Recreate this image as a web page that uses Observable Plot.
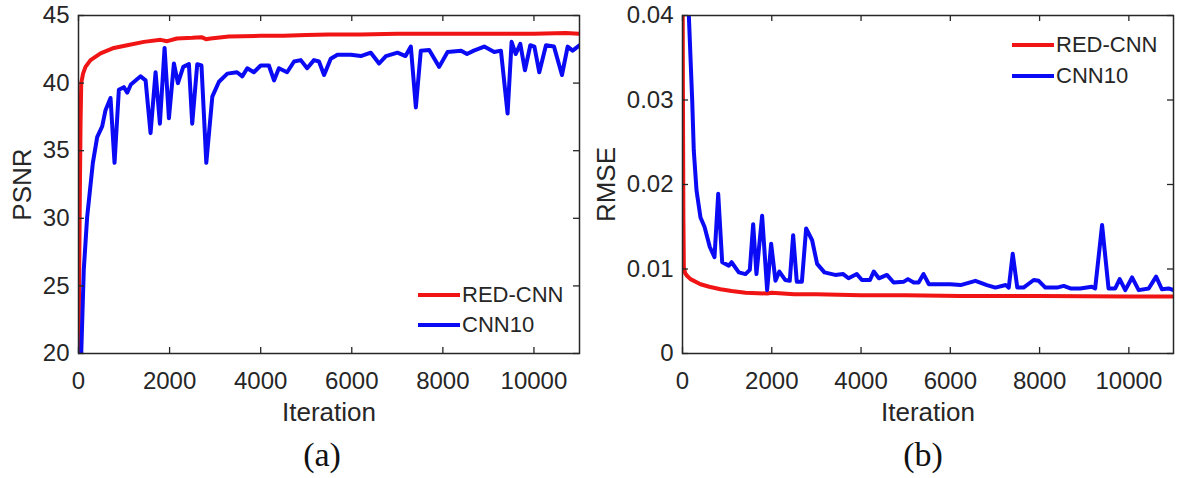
<!DOCTYPE html>
<html><head><meta charset="utf-8">
<script src="https://cdn.jsdelivr.net/npm/d3@7"></script>
<script src="https://cdn.jsdelivr.net/npm/@observablehq/plot@0.6"></script>
<style>
body{margin:0;background:#fff;}
#wrap{position:relative;width:1181px;height:478px;display:flex;background:#fff;}
.leg{position:absolute;font:22px "Liberation Sans",Arial,sans-serif;color:#262626;display:flex;align-items:center;white-space:nowrap;height:26px;line-height:26px;}
.leg span.l{display:inline-block;width:42px;height:4px;margin-right:2px;}
</style></head><body><div id="wrap"></div>
<script>
// ---- data ----
const seriesNames = ["RED-CNN", "CNN10"];
const seriesColors = ["#f01414", "#0a0af5"];
const xTicks = [0, 2000, 4000, 6000, 8000, 10000];
const psnrTicks = [20, 25, 30, 35, 40, 45];
const rmseTicks = [0, 0.01, 0.02, 0.03, 0.04];

const psnrRedIter = [0, 15, 30, 45, 60, 100, 154, 264, 484, 776, 1070, 1436, 1802, 1948, 2160, 2500, 2700, 2800, 2900, 3300, 4000, 4500, 5000, 5500, 6200, 7000, 8000, 9000, 10000, 10700, 11000];
const psnrRed = [20, 26, 32, 37, 40.0, 40.7, 41.2, 41.7, 42.2, 42.6, 42.8, 43.05, 43.2, 43.1, 43.3, 43.35, 43.4, 43.25, 43.3, 43.45, 43.5, 43.5, 43.55, 43.6, 43.6, 43.65, 43.65, 43.65, 43.65, 43.7, 43.65];

const psnrBlueIter = [60, 116, 190, 315, 410, 520, 593, 703, 791, 886, 995, 1070, 1150, 1363, 1473, 1582, 1692, 1787, 1890, 1985, 2095, 2183, 2300, 2424, 2497, 2607, 2700, 2806, 2938, 3084, 3268, 3480, 3596, 3705, 3850, 4000, 4180, 4293, 4400, 4580, 4733, 4880, 5020, 5170, 5280, 5392, 5538, 5685, 5980, 6198, 6418, 6600, 6750, 7004, 7180, 7297, 7407, 7516, 7700, 7919, 8103, 8400, 8530, 8680, 8908, 9128, 9275, 9421, 9509, 9600, 9700, 9802, 9920, 10010, 10117, 10264, 10440, 10615, 10740, 10850, 11000];
const psnrBlue = [20, 26.2, 30.1, 34.1, 36.0, 36.8, 38.0, 38.9, 34.1, 39.5, 39.7, 39.3, 39.9, 40.5, 40.2, 36.3, 40.8, 37.0, 42.6, 37.4, 41.45, 40.0, 41.2, 41.4, 37.0, 41.4, 41.3, 34.1, 39.0, 40.1, 40.7, 40.8, 40.5, 41.1, 40.8, 41.3, 41.3, 40.2, 41.1, 40.8, 41.6, 41.7, 41.1, 41.7, 41.6, 40.6, 41.8, 42.1, 42.1, 42.0, 42.25, 41.45, 42.0, 42.25, 42.0, 42.7, 38.2, 42.4, 42.45, 41.2, 42.3, 42.4, 42.15, 42.4, 42.7, 42.3, 42.4, 37.75, 43.05, 42.15, 42.9, 40.95, 42.8, 42.7, 40.8, 42.8, 42.7, 40.6, 42.7, 42.4, 42.8];

const rmseRedIter = [0, 10, 20, 30, 60, 100, 179, 403, 600, 851, 1100, 1411, 1896, 2000, 2500, 3000, 3990, 5000, 6230, 8000, 10000, 11000];
const rmseRed = [0.05, 0.03, 0.016, 0.0102, 0.0095, 0.0092, 0.0088, 0.0082, 0.0079, 0.0076, 0.0074, 0.0072, 0.0071, 0.0072, 0.0070, 0.0070, 0.0069, 0.0069, 0.0068, 0.0068, 0.00675, 0.00675];

const rmseBlueIter = [120, 142, 217, 253, 314, 403, 493, 612, 717, 800, 889, 1037, 1100, 1261, 1411, 1508, 1583, 1657, 1784, 1896, 1986, 2083, 2170, 2300, 2403, 2479, 2560, 2675, 2770, 2904, 3016, 3180, 3420, 3600, 3720, 3905, 4020, 4200, 4285, 4400, 4580, 4730, 4960, 5050, 5180, 5290, 5400, 5520, 6000, 6230, 6562, 6820, 7010, 7240, 7310, 7398, 7500, 7640, 7868, 7980, 8130, 8390, 8540, 8690, 8910, 9170, 9245, 9400, 9545, 9695, 9795, 9920, 10072, 10220, 10445, 10610, 10740, 10890, 11000];
const rmseBlue = [0.05, 0.040, 0.030, 0.024, 0.0193, 0.0161, 0.0150, 0.0126, 0.0114, 0.0189, 0.0108, 0.0104, 0.0108, 0.0096, 0.0094, 0.0099, 0.0153, 0.0094, 0.0163, 0.0075, 0.0130, 0.0086, 0.0097, 0.0087, 0.0086, 0.0140, 0.0085, 0.0085, 0.0148, 0.0134, 0.0106, 0.0096, 0.0093, 0.0094, 0.0089, 0.0094, 0.0087, 0.0087, 0.0097, 0.0089, 0.0093, 0.0084, 0.0085, 0.0088, 0.0084, 0.0084, 0.0094, 0.0082, 0.0082, 0.0081, 0.0086, 0.0081, 0.0078, 0.0081, 0.0078, 0.0118, 0.0078, 0.0078, 0.0087, 0.0086, 0.0078, 0.0078, 0.0080, 0.0077, 0.0077, 0.0079, 0.0077, 0.0152, 0.0077, 0.0077, 0.0088, 0.0075, 0.0090, 0.0075, 0.0077, 0.0091, 0.0076, 0.0077, 0.0075];

const zip = (xs, ys) => xs.map((x, i) => ({iter: x, value: ys[i]}));

function panel({width, marginLeft, marginRight, yDomain, yTicks, yFmt, yLabel, labelDx, caption, captionDx, series}) {
  const marginTop = 15, marginBottom = 125, height = 478;
  const innerW = width - marginLeft - marginRight, innerH = height - marginTop - marginBottom;
  const axisCol = "#262626";
  return Plot.plot({
    width, height, marginLeft, marginRight, marginTop, marginBottom,
    style: {fontFamily: '"Liberation Sans", Arial, sans-serif', fontSize: "24px", color: axisCol, background: "white", overflow: "visible"},
    x: {domain: [0, 11000]},
    y: {domain: yDomain},
    marks: [
      Plot.axisX({ticks: xTicks, tickSize: 0, tickPadding: 18, tickFormat: d => String(d), label: null, fontSize: 24}),
      Plot.axisY({ticks: yTicks, tickSize: 0, tickPadding: 9, tickFormat: yFmt, label: null, fontSize: 24}),
      ...series.map(s => Plot.line(s.data, {x: "iter", y: "value", stroke: s.color, strokeWidth: 4, strokeLinejoin: "round", strokeLinecap: "round", clip: true})),
      Plot.ruleX(xTicks, {x: d => d, insetTop: innerH - 6, stroke: axisCol, strokeWidth: 1.3}),
      Plot.ruleX(xTicks, {x: d => d, insetBottom: innerH - 6, stroke: axisCol, strokeWidth: 1.3}),
      Plot.ruleY(yTicks, {y: d => d, insetRight: innerW - 6, stroke: axisCol, strokeWidth: 1.3}),
      Plot.ruleY(yTicks, {y: d => d, insetLeft: innerW - 6, stroke: axisCol, strokeWidth: 1.3}),
      Plot.frame({stroke: axisCol, strokeWidth: 1.5}),
      Plot.text(["Iteration"], {frameAnchor: "bottom", lineAnchor: "middle", textAnchor: "middle", dy: 59, fontSize: 26, fill: axisCol}),
      Plot.text([yLabel], {frameAnchor: "left", lineAnchor: "middle", textAnchor: "middle", rotate: -90, dx: labelDx, fontSize: 26, fill: axisCol}),
      Plot.text([caption], {frameAnchor: "bottom", lineAnchor: "middle", textAnchor: "middle", dx: captionDx, dy: 102, fontSize: 34, fontFamily: '"Liberation Serif", "Times New Roman", serif', fill: "#111"})
    ]
  });
}

const wrap = document.getElementById("wrap");
wrap.appendChild(panel({
  width: 590, marginLeft: 78, marginRight: 11,
  yDomain: [20, 45], yTicks: psnrTicks, yFmt: d => String(d), yLabel: "PSNR", labelDx: -56, caption: "(a)", captionDx: -7,
  series: [
    {data: zip(psnrRedIter, psnrRed), color: seriesColors[0]},
    {data: zip(psnrBlueIter, psnrBlue), color: seriesColors[1]}
  ]
}));
wrap.appendChild(panel({
  width: 591, marginLeft: 92, marginRight: 8,
  yDomain: [0, 0.04], yTicks: rmseTicks, yFmt: d => String(d), yLabel: "RMSE", labelDx: -76, caption: "(b)", captionDx: -5,
  series: [
    {data: zip(rmseRedIter, rmseRed), color: seriesColors[0]},
    {data: zip(rmseBlueIter, rmseBlue), color: seriesColors[1]}
  ]
}));

function legend(left, top, gap) {
  seriesNames.forEach((name, i) => {
    const d = document.createElement("div");
    d.className = "leg";
    d.style.left = left + "px";
    d.style.top = (top + i * gap) + "px";
    const l = document.createElement("span");
    l.className = "l";
    l.style.background = seriesColors[i];
    d.appendChild(l);
    d.appendChild(document.createTextNode(name));
    wrap.appendChild(d);
  });
}
legend(418, 282, 30);
legend(1012, 32, 31);
</script>
</body></html>
